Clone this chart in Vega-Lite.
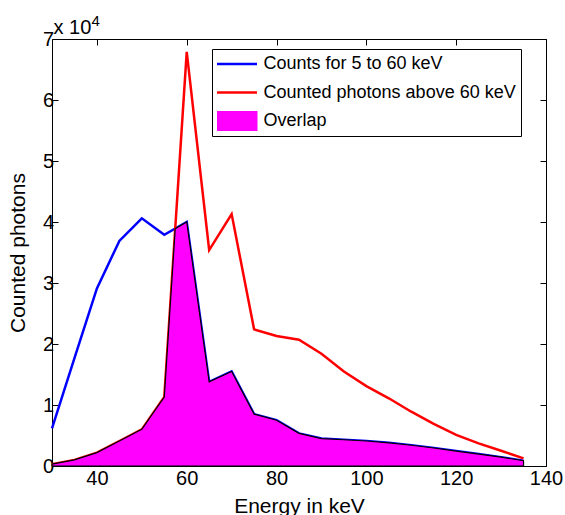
{
  "$schema": "https://vega.github.io/schema/vega-lite/v6.json",
  "width": 494,
  "height": 427,
  "autosize": {"type": "none"},
  "padding": {"left": 52, "top": 39, "right": 19, "bottom": 49},
  "background": "white",
  "config": {
    "view": {"stroke": null},
    "font": "Liberation Sans",
    "axis": {"grid": false, "domainColor": "black", "tickColor": "black", "labelColor": "black", "titleColor": "black", "titleFontWeight": "normal", "domainWidth": 1, "tickWidth": 1, "labelFont": "Liberation Sans", "titleFont": "Liberation Sans"}
  },
  "data": {"values": [
    {"energy": 30, "count": 6180, "series": "Counts for 5 to 60 keV"},
    {"energy": 35, "count": 17700, "series": "Counts for 5 to 60 keV"},
    {"energy": 40, "count": 29100, "series": "Counts for 5 to 60 keV"},
    {"energy": 45, "count": 36900, "series": "Counts for 5 to 60 keV"},
    {"energy": 50, "count": 40600, "series": "Counts for 5 to 60 keV"},
    {"energy": 55, "count": 37900, "series": "Counts for 5 to 60 keV"},
    {"energy": 60, "count": 40000, "series": "Counts for 5 to 60 keV"},
    {"energy": 65, "count": 13800, "series": "Counts for 5 to 60 keV"},
    {"energy": 70, "count": 15500, "series": "Counts for 5 to 60 keV"},
    {"energy": 75, "count": 8500, "series": "Counts for 5 to 60 keV"},
    {"energy": 80, "count": 7500, "series": "Counts for 5 to 60 keV"},
    {"energy": 85, "count": 5350, "series": "Counts for 5 to 60 keV"},
    {"energy": 90, "count": 4500, "series": "Counts for 5 to 60 keV"},
    {"energy": 95, "count": 4300, "series": "Counts for 5 to 60 keV"},
    {"energy": 100, "count": 4100, "series": "Counts for 5 to 60 keV"},
    {"energy": 105, "count": 3800, "series": "Counts for 5 to 60 keV"},
    {"energy": 110, "count": 3400, "series": "Counts for 5 to 60 keV"},
    {"energy": 115, "count": 2950, "series": "Counts for 5 to 60 keV"},
    {"energy": 120, "count": 2450, "series": "Counts for 5 to 60 keV"},
    {"energy": 125, "count": 1950, "series": "Counts for 5 to 60 keV"},
    {"energy": 130, "count": 1450, "series": "Counts for 5 to 60 keV"},
    {"energy": 135, "count": 870, "series": "Counts for 5 to 60 keV"},
    {"energy": 30, "count": 300, "series": "Counted photons above 60 keV"},
    {"energy": 35, "count": 1000, "series": "Counted photons above 60 keV"},
    {"energy": 40, "count": 2200, "series": "Counted photons above 60 keV"},
    {"energy": 45, "count": 4100, "series": "Counted photons above 60 keV"},
    {"energy": 50, "count": 6000, "series": "Counted photons above 60 keV"},
    {"energy": 55, "count": 11300, "series": "Counted photons above 60 keV"},
    {"energy": 60, "count": 67900, "series": "Counted photons above 60 keV"},
    {"energy": 65, "count": 35400, "series": "Counted photons above 60 keV"},
    {"energy": 70, "count": 41300, "series": "Counted photons above 60 keV"},
    {"energy": 75, "count": 22400, "series": "Counted photons above 60 keV"},
    {"energy": 80, "count": 21300, "series": "Counted photons above 60 keV"},
    {"energy": 85, "count": 20700, "series": "Counted photons above 60 keV"},
    {"energy": 90, "count": 18400, "series": "Counted photons above 60 keV"},
    {"energy": 95, "count": 15500, "series": "Counted photons above 60 keV"},
    {"energy": 100, "count": 13100, "series": "Counted photons above 60 keV"},
    {"energy": 105, "count": 11100, "series": "Counted photons above 60 keV"},
    {"energy": 110, "count": 8900, "series": "Counted photons above 60 keV"},
    {"energy": 115, "count": 6900, "series": "Counted photons above 60 keV"},
    {"energy": 120, "count": 5100, "series": "Counted photons above 60 keV"},
    {"energy": 125, "count": 3700, "series": "Counted photons above 60 keV"},
    {"energy": 130, "count": 2500, "series": "Counted photons above 60 keV"},
    {"energy": 135, "count": 1260, "series": "Counted photons above 60 keV"},
    {"energy": 30, "count": 300, "series": "Overlap"},
    {"energy": 35, "count": 1000, "series": "Overlap"},
    {"energy": 40, "count": 2200, "series": "Overlap"},
    {"energy": 45, "count": 4100, "series": "Overlap"},
    {"energy": 50, "count": 6000, "series": "Overlap"},
    {"energy": 55, "count": 11300, "series": "Overlap"},
    {"energy": 57.44, "count": 38900, "series": "Overlap"},
    {"energy": 60, "count": 40000, "series": "Overlap"},
    {"energy": 65, "count": 13800, "series": "Overlap"},
    {"energy": 70, "count": 15500, "series": "Overlap"},
    {"energy": 75, "count": 8500, "series": "Overlap"},
    {"energy": 80, "count": 7500, "series": "Overlap"},
    {"energy": 85, "count": 5350, "series": "Overlap"},
    {"energy": 90, "count": 4500, "series": "Overlap"},
    {"energy": 95, "count": 4300, "series": "Overlap"},
    {"energy": 100, "count": 4100, "series": "Overlap"},
    {"energy": 105, "count": 3800, "series": "Overlap"},
    {"energy": 110, "count": 3400, "series": "Overlap"},
    {"energy": 115, "count": 2950, "series": "Overlap"},
    {"energy": 120, "count": 2450, "series": "Overlap"},
    {"energy": 125, "count": 1950, "series": "Overlap"},
    {"energy": 130, "count": 1450, "series": "Overlap"},
    {"energy": 135, "count": 870, "series": "Overlap"}
  ]},
  "layer": [
    {
      "encoding": {
        "x": {"field": "energy", "type": "quantitative", "scale": {"domain": [30, 140], "nice": false, "zero": false},
          "axis": {"orient": "bottom", "values": [40, 60, 80, 100, 120, 140], "tickSize": -6, "labelFontSize": 20, "labelPadding": 24, "labelBaseline": "alphabetic", "labelFlush": false, "labelOverlap": false, "title": "Energy in keV", "titleFontSize": 21, "titleX": 247, "titleY": 46, "titleBaseline": "alphabetic"}},
        "y": {"field": "count", "type": "quantitative", "scale": {"domain": [0, 70000], "nice": false},
          "axis": {"orient": "left", "values": [0, 10000, 20000, 30000, 40000, 50000, 60000, 70000], "labelExpr": "datum.value / 10000", "tickSize": -6, "labelFontSize": 20, "labelPadding": 4.5, "labelFlush": false, "labelOverlap": false, "title": "Counted photons", "titleFontSize": 21, "titleX": -24, "titleY": 213.5, "titleAngle": -90, "titleBaseline": "bottom", "titleAlign": "center"}},
        "color": {"field": "series", "type": "nominal",
          "scale": {"domain": ["Counts for 5 to 60 keV", "Counted photons above 60 keV", "Overlap"], "range": ["#0000ff", "#ff0000", "#ff00ff"]},
          "legend": {"orient": "none", "legendX": 160, "legendY": 10, "title": null, "labelFontSize": 18, "labelFont": "Liberation Sans", "labelColor": "black", "symbolSize": 1600, "symbolStrokeWidth": 2.5, "clipHeight": 20, "rowPadding": 8.5, "padding": 5, "strokeColor": "black", "fillColor": "white", "symbolOffset": 11, "labelOffset": 17.5, "labelLimit": 400,
            "encoding": {"symbols": {
              "shape": {"value": {"expr": "datum.value == 'Overlap' ? 'M-1,-0.5H1V0.5H-1Z' : 'stroke'"}},
              "fill": {"value": {"expr": "datum.value == 'Overlap' ? '#ff00ff' : 'transparent'"}},
              "stroke": {"value": {"expr": "datum.value == 'Overlap' ? 'black' : (datum.value == 'Counts for 5 to 60 keV' ? '#0000ff' : '#ff0000')"}},
              "strokeWidth": {"value": {"expr": "datum.value == 'Overlap' ? 1 : 2.5"}},
              "size": {"value": 1600},
              "opacity": {"value": 1}
            }}}
        }
      },
      "layer": [
        {"transform": [{"filter": "datum.series == 'Counts for 5 to 60 keV'"}], "mark": {"type": "line", "strokeWidth": 2.5}},
        {"transform": [{"filter": "datum.series == 'Counted photons above 60 keV'"}], "mark": {"type": "line", "strokeWidth": 2.5}},
        {"transform": [{"filter": "datum.series == 'Overlap'"}], "mark": {"type": "area", "stroke": "black", "strokeWidth": 1.2, "opacity": 1, "fillOpacity": 1}}
      ]
    },
    {
      "mark": {"type": "point", "opacity": 0},
      "encoding": {
        "x": {"field": "energy", "type": "quantitative", "scale": {"domain": [30, 140], "nice": false, "zero": false},
          "axis": {"orient": "top", "values": [40, 60, 80, 100, 120, 140], "tickSize": -6, "labels": false, "title": "4", "titleFontSize": 15, "titleX": 39, "titleY": -14, "titleAngle": 0, "titleAlign": "left", "titleBaseline": "alphabetic"}},
        "y": {"field": "count", "type": "quantitative", "scale": {"domain": [0, 70000], "nice": false},
          "axis": {"orient": "right", "values": [0, 10000, 20000, 30000, 40000, 50000, 60000, 70000], "tickSize": -6, "labels": false, "title": "x 10", "titleFontSize": 20, "titleX": -493, "titleY": -6, "titleAngle": 0, "titleAlign": "left", "titleBaseline": "alphabetic"}}
      }
    }
  ],
  "resolve": {"scale": {"x": "independent", "y": "independent"}}
}
